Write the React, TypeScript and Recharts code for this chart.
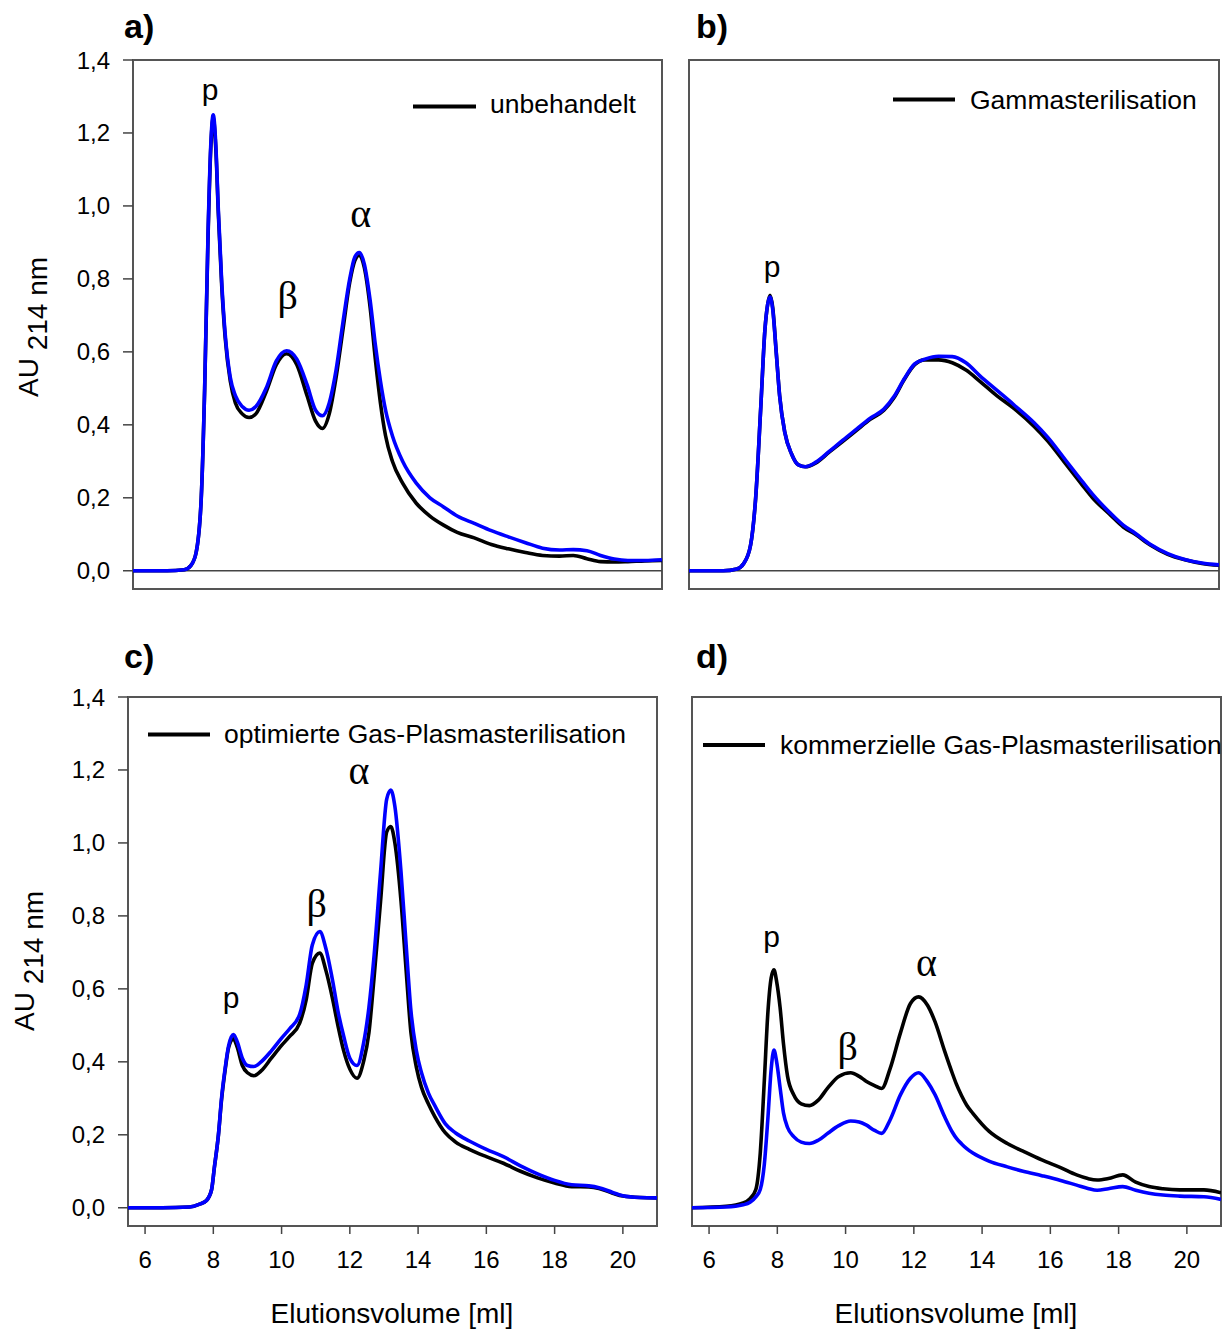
import React from 'react';
import { LineChart, Line, XAxis, YAxis, ReferenceLine, ReferenceArea, ReferenceDot } from 'recharts';

const SANS = '"Liberation Sans", Arial, sans-serif';
const SERIF = '"Liberation Serif", "Times New Roman", serif';

// shared axes
const yTicks = [0, 0.2, 0.4, 0.6, 0.8, 1.0, 1.2, 1.4];
const xTicks = [6, 8, 10, 12, 14, 16, 18, 20];

// a) unbehandelt
const volA = [5.5, 6.5, 7.0, 7.2, 7.35, 7.5, 7.6, 7.7, 7.78, 7.85, 7.93, 8.0, 8.1, 8.2, 8.35, 8.5, 8.7, 8.9, 9.1, 9.4, 9.7, 10.0, 10.3, 10.6, 10.85, 11.05, 11.25, 11.45, 11.65, 11.85, 12.0, 12.13, 12.28, 12.45, 12.6, 12.75, 12.9, 13.1, 13.4, 13.8, 14.2, 14.6, 15.0, 15.5, 16.0, 16.5, 17.0, 17.5, 18.0, 18.4, 18.8, 19.2, 19.6, 20.0, 20.5, 21.0];
const blackA = [0, 0, 0.003, 0.015, 0.05, 0.2, 0.5, 0.92, 1.16, 1.24, 1.15, 0.98, 0.78, 0.64, 0.52, 0.46, 0.43, 0.42, 0.43, 0.49, 0.565, 0.595, 0.565, 0.48, 0.41, 0.39, 0.43, 0.53, 0.66, 0.79, 0.85, 0.865, 0.83, 0.72, 0.58, 0.46, 0.37, 0.3, 0.24, 0.185, 0.15, 0.125, 0.105, 0.09, 0.072, 0.06, 0.05, 0.042, 0.04, 0.042, 0.033, 0.025, 0.024, 0.025, 0.027, 0.028];
const blueA = [0, 0, 0.003, 0.015, 0.05, 0.2, 0.5, 0.93, 1.17, 1.25, 1.16, 0.99, 0.79, 0.65, 0.53, 0.48, 0.45, 0.44, 0.45, 0.5, 0.575, 0.603, 0.58, 0.51, 0.44, 0.425, 0.46, 0.55, 0.68, 0.8, 0.86, 0.872, 0.84, 0.74, 0.62, 0.52, 0.44, 0.37, 0.3, 0.24, 0.2, 0.175, 0.15, 0.13, 0.11, 0.093, 0.077, 0.062, 0.057, 0.058, 0.055, 0.042, 0.032, 0.028, 0.028, 0.03];
const peaksA = [
  { label: 'p', x: 7.76, y: 1.319 },
  { label: 'β', x: 10.03, y: 0.757 },
  { label: 'α', x: 12.17, y: 0.981 },
];

// b) Gammasterilisation
const volB = [5.5, 6.5, 6.9, 7.1, 7.3, 7.45, 7.6, 7.72, 7.8, 7.87, 7.95, 8.05, 8.15, 8.3, 8.5, 8.7, 8.9, 9.2, 9.6, 10.0, 10.4, 10.8, 11.2, 11.5, 11.8, 12.1, 12.4, 12.8, 13.2, 13.6, 14.0, 14.5, 15.0, 15.6, 16.0, 16.5, 17.0, 17.3, 17.8, 18.2, 18.55, 19.0, 19.5, 20.0, 20.5, 21.0];
const blackB = [0, 0, 0.005, 0.02, 0.07, 0.2, 0.45, 0.66, 0.73, 0.755, 0.72, 0.6, 0.48, 0.38, 0.32, 0.29, 0.285, 0.295, 0.325, 0.355, 0.385, 0.415, 0.44, 0.475, 0.525, 0.565, 0.578, 0.578, 0.57, 0.55, 0.52, 0.48, 0.445, 0.395, 0.355, 0.295, 0.235, 0.2, 0.155, 0.12, 0.1, 0.07, 0.045, 0.03, 0.02, 0.015];
const blueB = [0, 0, 0.005, 0.02, 0.07, 0.2, 0.45, 0.66, 0.73, 0.75, 0.715, 0.6, 0.48, 0.38, 0.32, 0.29, 0.285, 0.297, 0.327, 0.358, 0.388, 0.418, 0.443, 0.478, 0.527, 0.567, 0.58, 0.588, 0.587, 0.57, 0.535, 0.495, 0.455, 0.405, 0.365, 0.305, 0.245, 0.21, 0.16, 0.125, 0.103, 0.072, 0.047, 0.031, 0.021, 0.016];
const peaksB = [{ label: 'p', x: 7.93, y: 0.834 }];

// c) optimierte Gas-Plasmasterilisation
const volC = [5.5, 6.5, 7.3, 7.6, 7.8, 7.95, 8.03, 8.15, 8.24, 8.35, 8.45, 8.59, 8.7, 8.85, 9.0, 9.19, 9.4, 9.7, 10.0, 10.23, 10.53, 10.72, 10.9, 11.12, 11.3, 11.5, 11.65, 11.82, 12.0, 12.21, 12.4, 12.56, 12.7, 12.9, 13.08, 13.2, 13.32, 13.5, 13.65, 13.79, 13.95, 14.1, 14.3, 14.49, 14.8, 15.1, 15.5, 16.0, 16.5, 17.0, 17.5, 18.0, 18.5, 19.0, 19.3, 19.7, 20.0, 20.5, 21.0];
const blackC = [0, 0, 0.002, 0.01, 0.02, 0.05, 0.11, 0.2, 0.295, 0.38, 0.44, 0.463, 0.44, 0.39, 0.37, 0.362, 0.375, 0.41, 0.445, 0.469, 0.506, 0.57, 0.67, 0.698, 0.65, 0.57, 0.5, 0.43, 0.38, 0.355, 0.4, 0.48, 0.62, 0.84, 1.03, 1.045, 1.0, 0.84, 0.65, 0.48, 0.385, 0.33, 0.285, 0.25, 0.205, 0.18, 0.16, 0.14, 0.122, 0.1, 0.082, 0.068, 0.058, 0.057, 0.053, 0.04, 0.032, 0.028, 0.027];
const blueC = [0, 0, 0.002, 0.01, 0.02, 0.05, 0.11, 0.2, 0.3, 0.385, 0.445, 0.475, 0.455, 0.41, 0.39, 0.387, 0.4, 0.43, 0.465, 0.49, 0.53, 0.61, 0.72, 0.757, 0.71, 0.62, 0.54, 0.47, 0.41, 0.39, 0.45, 0.55, 0.68, 0.92, 1.12, 1.145, 1.1, 0.92, 0.72, 0.54, 0.43, 0.37, 0.315, 0.28, 0.23, 0.205, 0.183, 0.16, 0.14, 0.115, 0.093, 0.075, 0.063, 0.06, 0.055, 0.042, 0.033, 0.028, 0.027];
const peaksC = [
  { label: 'p', x: 8.52, y: 0.576 },
  { label: 'β', x: 11.03, y: 0.835 },
  { label: 'α', x: 12.27, y: 1.2 },
];

// d) kommerzielle Gas-Plasmasterilisation
const volD = [5.5, 6.5, 7.0, 7.2, 7.37, 7.5, 7.62, 7.72, 7.82, 7.9, 7.98, 8.08, 8.18, 8.3, 8.48, 8.7, 8.94, 9.2, 9.49, 9.8, 10.15, 10.4, 10.6, 10.85, 11.06, 11.3, 11.61, 11.9, 12.14, 12.4, 12.62, 12.9, 13.13, 13.25, 13.4, 13.55, 13.73, 14.2, 14.74, 15.2, 15.75, 16.3, 16.77, 17.1, 17.37, 17.7, 18.12, 18.5, 18.89, 19.3, 19.79, 20.5, 21.0];
const blackD = [0, 0.004, 0.013, 0.025, 0.05, 0.15, 0.35, 0.53, 0.63, 0.652, 0.62, 0.55, 0.45, 0.36, 0.31, 0.285, 0.28, 0.295, 0.33, 0.36, 0.37, 0.36, 0.347, 0.335, 0.327, 0.38, 0.48, 0.56, 0.578, 0.555, 0.51, 0.43, 0.368, 0.338, 0.307, 0.281, 0.259, 0.21, 0.176, 0.155, 0.131, 0.11, 0.09, 0.08, 0.076, 0.08, 0.09, 0.07, 0.058, 0.052, 0.049, 0.049, 0.041];
const blueD = [0, 0.002, 0.008, 0.015, 0.03, 0.05, 0.12, 0.24, 0.38, 0.432, 0.4, 0.33, 0.26, 0.22, 0.195, 0.18, 0.176, 0.185, 0.205, 0.225, 0.238, 0.235, 0.227, 0.212, 0.204, 0.24, 0.31, 0.355, 0.37, 0.345, 0.31, 0.25, 0.207, 0.19, 0.175, 0.162, 0.15, 0.128, 0.112, 0.1, 0.088, 0.075, 0.062, 0.053, 0.048, 0.052, 0.058, 0.048, 0.04, 0.035, 0.032, 0.03, 0.023];
const peaksD = [
  { label: 'p', x: 7.83, y: 0.745 },
  { label: 'β', x: 10.06, y: 0.445 },
  { label: 'α', x: 12.37, y: 0.675 },
];

const fmt = (v: number) => v.toFixed(1).replace('.', ',');

type PanelProps = {
  vol: number[];
  black: number[];
  blue: number[];
  peaks: { label: string; x: number; y: number }[];
  left: number;
  top: number;
  width: number;
  height: number;
  margin: { top: number; right: number; bottom: number; left: number };
  yWidth?: number;
  showY?: boolean;
  showX?: boolean;
  zeroLine?: boolean;
};

function Panel({ vol, black, blue, peaks, left, top, width, height, margin, yWidth = 60, showY, showX, zeroLine }: PanelProps) {
  const data = vol.map((v, i) => ({ v, black: black[i], blue: blue[i] }));
  return (
    <div style={{ position: 'absolute', left, top }}>
      <LineChart width={width} height={height} data={data} margin={margin}>
        <XAxis
          dataKey="v"
          type="number"
          domain={[5.5, 21]}
          allowDataOverflow
          ticks={xTicks}
          interval={0}
          hide={!showX}
          height={60}
          axisLine={false}
          tickLine={{ stroke: '#444', strokeWidth: 1.5 }}
          tickSize={8}
          tickMargin={17}
          tick={{ fontSize: 24, fill: '#000', fontFamily: SANS }}
        />
        <YAxis
          type="number"
          domain={[-0.05, 1.4]}
          allowDataOverflow
          ticks={yTicks}
          interval={0}
          hide={!showY}
          width={yWidth}
          axisLine={false}
          tickLine={{ stroke: '#444', strokeWidth: 1.5 }}
          tickSize={10}
          tickMargin={13}
          tickFormatter={fmt}
          tick={{ fontSize: 24, fill: '#000', fontFamily: SANS }}
        />
        <ReferenceArea x1={5.5} x2={21} y1={-0.05} y2={1.4} fill="none" stroke="#555" strokeWidth={2} />
        {zeroLine && <ReferenceLine y={0} stroke="#444" strokeWidth={1.5} />}
        <Line type="monotone" dataKey="black" stroke="#000000" strokeWidth={3.6} dot={false} isAnimationActive={false} />
        <Line type="monotone" dataKey="blue" stroke="#0000ff" strokeWidth={3.6} dot={false} isAnimationActive={false} />
        {peaks.map((p) => (
          <ReferenceDot
            key={p.label}
            x={p.x}
            y={p.y}
            r={0}
            fill="none"
            stroke="none"
            label={{
              value: p.label,
              position: 'center',
              fontSize: p.label === 'p' ? 30 : 40,
              fontFamily: p.label === 'p' ? SANS : SERIF,
              fill: '#000',
            }}
          />
        ))}
      </LineChart>
    </div>
  );
}

function LegendItem({ text, x1, x2, y, tx, ty }: { text: string; x1: number; x2: number; y: number; tx: number; ty: number }) {
  return (
    <g>
      <line x1={x1} x2={x2} y1={y} y2={y} stroke="#000" strokeWidth={4} />
      <text x={tx} y={ty} fontSize={26.5} fontFamily={SANS} fill="#000">{text}</text>
    </g>
  );
}

function YTitle({ x, y }: { x: number; y: number }) {
  return (
    <text transform={`translate(${x},${y}) rotate(-90)`} textAnchor="middle" fontSize={28} fontFamily={SANS} fill="#000">
      <tspan>AU </tspan>
      <tspan dy={9}>214 nm</tspan>
    </text>
  );
}

export default function App() {
  return (
    <div style={{ position: 'absolute', left: 0, top: 0, width: 1227, height: 1330, background: '#fff' }}>
      <Panel vol={volA} black={blackA} blue={blueA} peaks={peaksA} left={0} top={0} width={680} height={600}
        margin={{ top: 60, right: 18, bottom: 11, left: 0 }} yWidth={133} showY zeroLine />
      <Panel vol={volB} black={blackB} blue={blueB} peaks={peaksB} left={680} top={0} width={547} height={600}
        margin={{ top: 60, right: 8, bottom: 11, left: 9 }} zeroLine />
      <Panel vol={volC} black={blackC} blue={blueC} peaks={peaksC} left={0} top={620} width={680} height={710}
        margin={{ top: 77, right: 23, bottom: 44, left: 0 }} yWidth={128} showY showX />
      <Panel vol={volD} black={blackD} blue={blueD} peaks={peaksD} left={680} top={620} width={547} height={710}
        margin={{ top: 77, right: 6, bottom: 44, left: 12 }} showX />
      <svg width={1227} height={1330} style={{ position: 'absolute', left: 0, top: 0, pointerEvents: 'none' }}>
        <g fontFamily={SANS} fontWeight="bold" fontSize={34} fill="#000">
          <text x={124} y={38}>a)</text>
          <text x={696} y={38}>b)</text>
          <text x={124} y={668}>c)</text>
          <text x={696} y={668}>d)</text>
        </g>
        <LegendItem text="unbehandelt" x1={413} x2={476} y={106.5} tx={490} ty={113} />
        <LegendItem text="Gammasterilisation" x1={893} x2={955} y={99.5} tx={970} ty={108.5} />
        <LegendItem text="optimierte Gas-Plasmasterilisation" x1={148} x2={210} y={734.5} tx={224} ty={743} />
        <LegendItem text="kommerzielle Gas-Plasmasterilisation" x1={703} x2={765} y={745} tx={780} ty={754} />
        <YTitle x={38} y={327} />
        <YTitle x={34} y={961} />
        <text x={392} y={1323} textAnchor="middle" fontSize={28} fontFamily={SANS} fill="#000">Elutionsvolume [ml]</text>
        <text x={956} y={1323} textAnchor="middle" fontSize={28} fontFamily={SANS} fill="#000">Elutionsvolume [ml]</text>
      </svg>
    </div>
  );
}
